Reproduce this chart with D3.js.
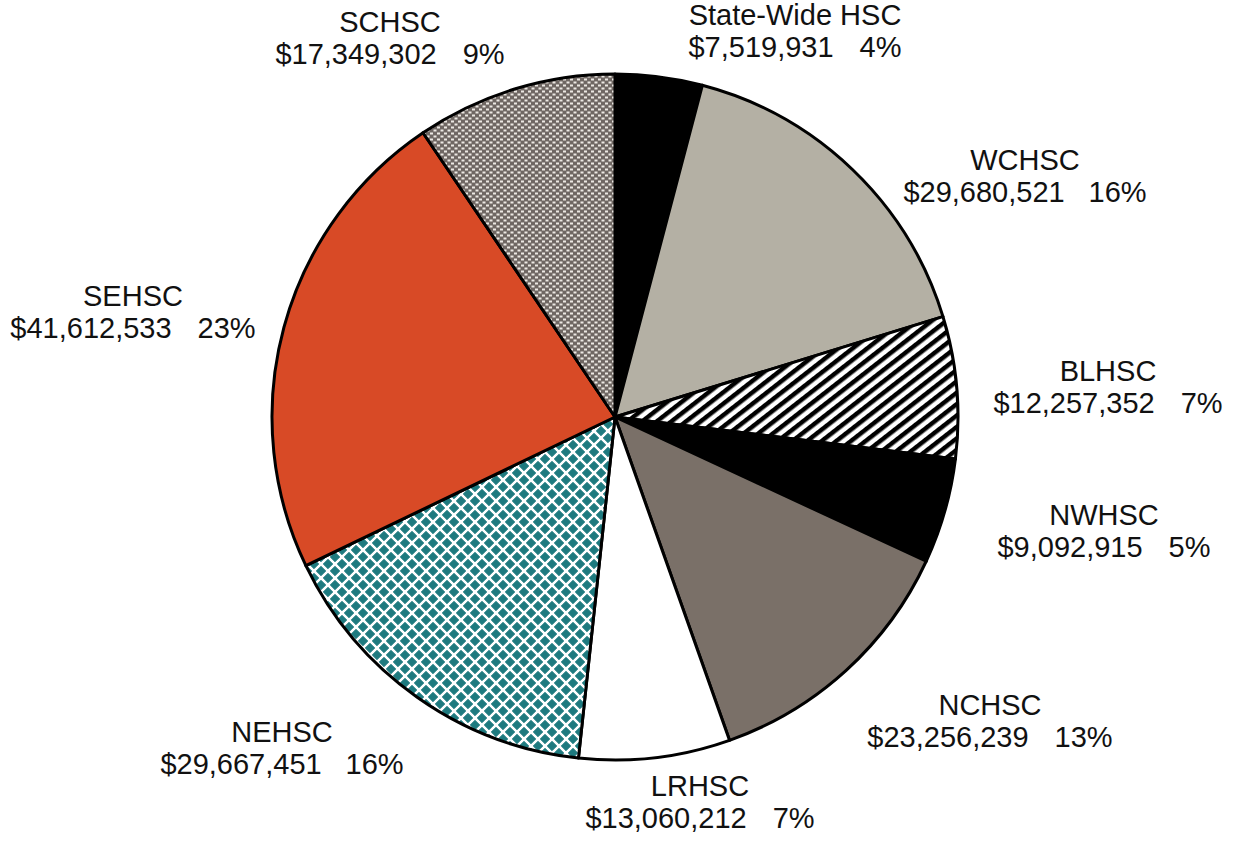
<!DOCTYPE html>
<html>
<head>
<meta charset="utf-8">
<script src="https://cdn.jsdelivr.net/npm/d3@7"></script>
<style>
  html, body { margin: 0; padding: 0; background: #fff; }
  svg { display: block; }
  text { font-family: "Liberation Sans", Arial, sans-serif; fill: #111; }
</style>
</head>
<body>
<svg id="chart" width="1238" height="846"></svg>
<script>
// ---- data ----
const categories = ["State-Wide HSC", "WCHSC", "BLHSC", "NWHSC", "NCHSC", "LRHSC", "NEHSC", "SEHSC", "SCHSC"];
const values = [7519931, 29680521, 12257352, 9092915, 23256239, 13060212, 29667451, 41612533, 17349302];
const fills = ["#000000", "#b4b0a4", "url(#pStripe)", "#000000", "#7a7068", "#ffffff", "url(#pDiamond)", "#d84a26", "url(#pDash)"];
// label block placement (centre x, first-line baseline y)
const labelPos = [[795, 25], [1025, 170], [1108, 381], [1104, 525], [990, 715], [700, 796], [282, 742], [133, 306], [390, 32]];

const W = 1238, H = 846;
const cx = 615, cy = 417, R = 343;

const svg = d3.select("#chart");
const defs = svg.append("defs");

// diagonal stripes (BLHSC)
const ps = defs.append("pattern").attr("id", "pStripe").attr("patternUnits", "userSpaceOnUse")
  .attr("width", 9).attr("height", 9).attr("patternTransform", "rotate(-38)");
ps.append("rect").attr("width", 9).attr("height", 9).attr("fill", "#fff");
ps.append("rect").attr("width", 9).attr("height", 4.5).attr("fill", "#000");

// teal diamonds (NEHSC)
const pd = defs.append("pattern").attr("id", "pDiamond").attr("patternUnits", "userSpaceOnUse")
  .attr("width", 14).attr("height", 14);
pd.append("rect").attr("width", 14).attr("height", 14).attr("fill", "#fff");
const dia = (x, y, h) => `M${x},${y - h}L${x + h},${y}L${x},${y + h}L${x - h},${y}Z`;
[[7, 7], [0, 0], [14, 0], [0, 14], [14, 14]].forEach(([x, y]) =>
  pd.append("path").attr("d", dia(x, y, 4.8)).attr("fill", "#1e7a7f")
    .attr("stroke", "#1e7a7f").attr("stroke-width", 0.8).attr("stroke-linejoin", "round"));

// grey with white dashes (SCHSC)
const pk = defs.append("pattern").attr("id", "pDash").attr("patternUnits", "userSpaceOnUse")
  .attr("width", 7).attr("height", 6);
pk.append("rect").attr("width", 7).attr("height", 6).attr("fill", "#6f6763");
pk.append("rect").attr("x", 0.5).attr("y", 0.5).attr("width", 3).attr("height", 2).attr("fill", "#ece8e3");
pk.append("rect").attr("x", 4).attr("y", 3.5).attr("width", 3).attr("height", 2).attr("fill", "#ece8e3");

const data = categories.map((c, i) => ({ name: c, value: values[i], fill: fills[i], pos: labelPos[i] }));
const total = d3.sum(values);

const pie = d3.pie().value(d => d.value).sort(null);
const arc = d3.arc().innerRadius(0).outerRadius(R);

const g = svg.append("g").attr("transform", `translate(${cx},${cy})`);
g.selectAll("path.slice").data(pie(data)).join("path")
  .attr("class", "slice")
  .attr("d", arc)
  .attr("fill", d => d.data.fill)
  .attr("stroke", "#000")
  .attr("stroke-width", 3)
  .attr("stroke-linejoin", "round");

const fmt = d3.format("$,");
const labels = svg.append("g").selectAll("g").data(data).join("g");
labels.append("text")
  .attr("x", d => d.pos[0]).attr("y", d => d.pos[1])
  .attr("text-anchor", "middle").attr("font-size", 29)
  .text(d => d.name);
const l2 = labels.append("text")
  .attr("x", d => d.pos[0]).attr("y", d => d.pos[1] + 32)
  .attr("text-anchor", "middle").attr("font-size", 29);
l2.append("tspan").text(d => fmt(d.value));
l2.append("tspan").attr("dx", 26).text(d => Math.round(d.value / total * 100) + "%");
</script>
</body>
</html>
